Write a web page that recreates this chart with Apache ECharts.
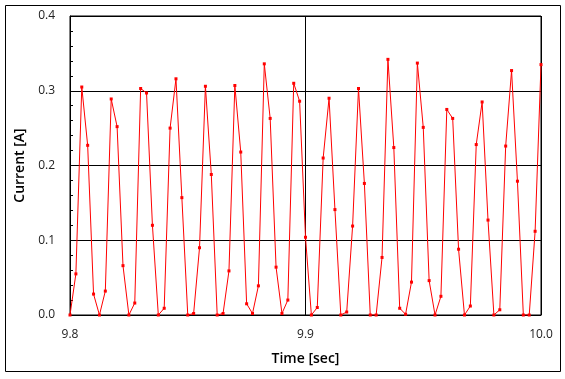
<!DOCTYPE html>
<html>
<head>
<meta charset="utf-8">
<script src="https://cdn.jsdelivr.net/npm/echarts@6/dist/echarts.min.js"></script>
<style>html,body{margin:0;padding:0;background:#fff}#c{width:565px;height:379px}</style>
</head>
<body>
<div id="c"></div>
<script>
const timeSec = [9.8,9.8025,9.805,9.8075,9.81,9.8125,9.815,9.8175,9.82,9.8225,
9.825,9.8275,9.83,9.8325,9.835,9.8375,9.84,9.8425,9.845,9.8475,
9.85,9.8525,9.855,9.8575,9.86,9.8625,9.865,9.8675,9.87,9.8725,
9.875,9.8775,9.88,9.8825,9.885,9.8875,9.89,9.8925,9.895,9.8975,
9.9,9.9025,9.905,9.9075,9.91,9.9125,9.915,9.9175,9.92,9.9225,
9.925,9.9275,9.93,9.9325,9.935,9.9375,9.94,9.9425,9.945,9.9475,
9.95,9.9525,9.955,9.9575,9.96,9.9625,9.965,9.9675,9.97,9.9725,
9.975,9.9775,9.98,9.9825,9.985,9.9875,9.99,9.9925,9.995,9.9975,10.0];
const currentA = [0,0.055,0.305,0.227,0.028,0,0.032,0.289,0.252,0.066,
0,0.016,0.303,0.297,0.12,0,0.009,0.25,0.316,0.157,
0,0.002,0.09,0.306,0.188,0,0.002,0.059,0.307,0.218,
0.015,0.002,0.039,0.336,0.263,0.064,0.002,0.02,0.31,0.286,
0.104,0,0.01,0.21,0.29,0.141,0,0.004,0.119,0.303,
0.176,0,0,0.077,0.342,0.224,0.009,0.001,0.044,0.337,
0.251,0.046,0,0.025,0.275,0.263,0.088,0,0.012,0.228,
0.285,0.127,0,0.007,0.226,0.327,0.179,0,0,0.112,0.335];
const xTitle = 'Time [sec]';
const yTitle = 'Current [A]';

const chart = echarts.init(document.getElementById('c'), null, {renderer:'canvas'});
const font = "'Open Sans', 'Noto Sans', sans-serif";
chart.setOption({
  animation:false,
  backgroundColor:'#fff',
  graphic:[{type:'rect', shape:{x:5.5,y:5.5,width:555,height:366}, style:{fill:'none', stroke:'#000', lineWidth:1}, silent:true}],
  grid:{left:70, right:24, top:16, bottom:64, show:true, borderColor:'#000', borderWidth:1},
  xAxis:{type:'value', min:9.8, max:10.0, interval:0.1,
    name:xTitle, nameLocation:'middle', nameGap:37,
    nameTextStyle:{fontFamily:font, fontSize:14, fontWeight:600, color:'#000'},
    axisLine:{show:true, lineStyle:{color:'#000', width:1}},
    axisTick:{show:false},
    axisLabel:{margin:14, fontFamily:font, fontSize:12, color:'#222', formatter:v=>v.toFixed(1)},
    splitLine:{show:true, lineStyle:{color:'#000', width:1}}},
  yAxis:{type:'value', min:0, max:0.4, interval:0.1,
    name:yTitle, nameLocation:'middle', nameGap:42,
    nameTextStyle:{fontFamily:font, fontSize:14, fontWeight:600, color:'#000'},
    axisLine:{show:true, lineStyle:{color:'#000', width:1}},
    axisTick:{show:true, inside:true, length:3, lineStyle:{color:'#000'}},
    minorTick:{show:true, splitNumber:5, length:3, lineStyle:{color:'#000'}},
    axisLabel:{margin:15, fontFamily:font, fontSize:12, color:'#222', formatter:v=>v.toFixed(1)},
    splitLine:{show:true, lineStyle:{color:'#000', width:1}}},
  series:[{type:'line', data:timeSec.map((t,i)=>[t,currentA[i]]),
    symbol:'rect', symbolSize:3, showAllSymbol:true,
    lineStyle:{color:'#ff0000', width:1}, itemStyle:{color:'#ff0000'}}]
});
</script>
</body>
</html>
